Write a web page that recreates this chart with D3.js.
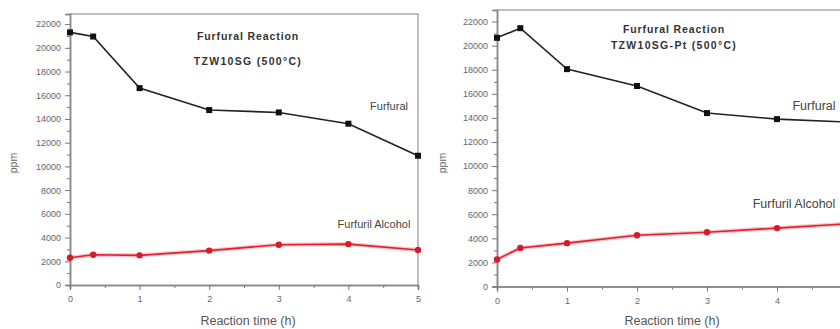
<!DOCTYPE html>
<html>
<head>
<meta charset="utf-8">
<script src="https://cdn.jsdelivr.net/npm/d3@7"></script>
<style>
  body { margin: 0; background: #fff; }
  svg { display: block; font-family: Arial, "Liberation Sans", sans-serif; }
</style>
</head>
<body>
<div id="chart"></div>
<script>
// reaction times (h)
const times = [0, 0.333, 1, 2, 3, 4, 5];

// left panel: TZW10SG (500°C)
const leftFurfural = [21300, 20950, 16600, 14750, 14550, 13600, 10900];
const leftAlcohol = [2300, 2550, 2500, 2900, 3400, 3450, 2950];

// right panel: TZW10SG-Pt (500°C)
const rightFurfural = [20650, 21450, 18050, 16650, 14400, 13900, 13650];
const rightAlcohol = [2250, 3200, 3600, 4250, 4500, 4850, 5200];

const yTicks = d3.range(0, 22001, 2000);
const xTicks = [0, 1, 2, 3, 4, 5];

const svg = d3.select('#chart')
  .append('svg')
  .attr('width', 840)
  .attr('height', 329);

function drawPanel(p) {
  const x = d3.scaleLinear().domain([0, 5]).range([p.left, p.right]);
  const y = d3.scaleLinear().domain([0, p.yMax]).range([p.bottom, p.top]);
  const g = svg.append('g');

  // frame (top and right, light)
  g.append('path')
    .attr('d', `M${p.left},${p.top}H${Math.min(p.right, 840)}` + (p.right <= 840 ? `V${p.bottom}` : ''))
    .attr('fill', 'none')
    .attr('stroke', '#aaa')
    .attr('stroke-width', 1.5);

  // minor ticks
  const yAxisMinor = d3.axisLeft(y).tickValues(d3.range(1000, 22001, 2000)).tickSize(3).tickFormat('');
  const xAxisMinor = d3.axisBottom(x).tickValues([0.5, 1.5, 2.5, 3.5, 4.5]).tickSize(3).tickFormat('');
  g.append('g').attr('transform', `translate(${p.left},0)`).call(yAxisMinor);
  g.append('g').attr('transform', `translate(0,${p.bottom})`).call(xAxisMinor);

  // only ticks that fall inside the picture
  const xs = xTicks.filter(t => x(t) < 836);
  const yAxis = d3.axisLeft(y).tickValues(yTicks).tickSize(5).tickPadding(4).tickFormat(d3.format('d'));
  const xAxis = d3.axisBottom(x).tickValues(xs).tickSize(5).tickPadding(6).tickFormat(d3.format('d'));
  const ya = g.append('g').attr('transform', `translate(${p.left},0)`).call(yAxis);
  const xa = g.append('g').attr('transform', `translate(0,${p.bottom})`).call(xAxis);

  [ya, xa].forEach(a => {
    a.selectAll('text').attr('font-size', p.tickFont).attr('fill', '#666');
  });
  g.selectAll('.domain').attr('stroke', '#888').attr('stroke-width', 1.5);
  g.selectAll('.tick line').attr('stroke', '#777');

  // axis titles
  g.append('text')
    .attr('x', p.xlabX)
    .attr('y', 325)
    .attr('text-anchor', 'middle')
    .attr('font-size', 12.5)
    .attr('fill', '#555')
    .text('Reaction time (h)');
  g.append('text')
    .attr('transform', `translate(${p.ylabX},${p.ylabY}) rotate(-90)`)
    .attr('text-anchor', 'middle')
    .attr('font-size', 10.5)
    .attr('fill', '#666')
    .text('ppm');

  // title
  g.append('text')
    .attr('x', p.titleX).attr('y', p.titleY)
    .attr('text-anchor', 'middle')
    .attr('font-size', 10.5).attr('font-weight', 'bold')
    .attr('letter-spacing', 0.9)
    .attr('fill', '#333')
    .text('Furfural Reaction');
  g.append('text')
    .attr('x', p.titleX).attr('y', p.titleY + p.titleGap)
    .attr('text-anchor', 'middle')
    .attr('font-size', 10.5).attr('font-weight', 'bold')
    .attr('letter-spacing', 1.3)
    .attr('fill', '#333')
    .text(p.sample);

  const line = d3.line().x((d, i) => x(times[i])).y(d => y(d));
  const clip = 'clip' + p.id;
  svg.append('clipPath').attr('id', clip)
    .append('rect').attr('x', p.left - 6).attr('y', 0).attr('width', 840 - p.left + 6).attr('height', 329);
  const plot = g.append('g').attr('clip-path', `url(#${clip})`);

  // furfuryl alcohol (red)
  plot.append('path')
    .datum(p.alcohol)
    .attr('d', line)
    .attr('fill', 'none')
    .attr('stroke', '#f3a0a8')
    .attr('stroke-width', 4)
    .attr('opacity', 0.6);
  plot.append('path')
    .datum(p.alcohol)
    .attr('d', line)
    .attr('fill', 'none')
    .attr('stroke', '#e0202e')
    .attr('stroke-width', 1.6);
  plot.selectAll('.alc')
    .data(p.alcohol).enter()
    .append('circle')
    .attr('cx', (d, i) => x(times[i]))
    .attr('cy', d => y(d))
    .attr('r', 3.2)
    .attr('fill', '#d81a2a');

  // furfural (black)
  plot.append('path')
    .datum(p.furfural)
    .attr('d', line)
    .attr('fill', 'none')
    .attr('stroke', '#222')
    .attr('stroke-width', 1.6);
  plot.selectAll('.fur')
    .data(p.furfural).enter()
    .append('rect')
    .attr('x', (d, i) => x(times[i]) - 3)
    .attr('y', d => y(d) - 3)
    .attr('width', 6)
    .attr('height', 6)
    .attr('fill', '#111');

  // series labels
  g.append('text')
    .attr('x', p.furLabX).attr('y', p.furLabY)
    .attr('text-anchor', 'middle')
    .attr('font-size', p.labFont)
    .attr('fill', '#444')
    .text('Furfural');
  g.append('text')
    .attr('x', p.alcLabX).attr('y', p.alcLabY)
    .attr('text-anchor', 'middle')
    .attr('font-size', p.labFont)
    .attr('fill', '#444')
    .text('Furfuril Alcohol');
}

drawPanel({
  id: 'L', left: 70, right: 418, top: 14, bottom: 285, yMax: 22850,
  furfural: leftFurfural, alcohol: leftAlcohol, sample: 'TZW10SG (500°C)',
  titleX: 248, titleY: 40, titleGap: 25, tickFont: 9,
  xlabX: 248, ylabX: 17, ylabY: 163, labFont: 11,
  furLabX: 389, furLabY: 110, alcLabX: 374, alcLabY: 228
});

drawPanel({
  id: 'R', left: 497, right: 847, top: 10, bottom: 286.5, yMax: 22960,
  furfural: rightFurfural, alcohol: rightAlcohol, sample: 'TZW10SG-Pt (500°C)',
  titleX: 674, titleY: 33, titleGap: 16, tickFont: 9,
  xlabX: 672, ylabX: 446, ylabY: 163, labFont: 12.5,
  furLabX: 814, furLabY: 110, alcLabX: 794, alcLabY: 208
});
</script>
</body>
</html>
